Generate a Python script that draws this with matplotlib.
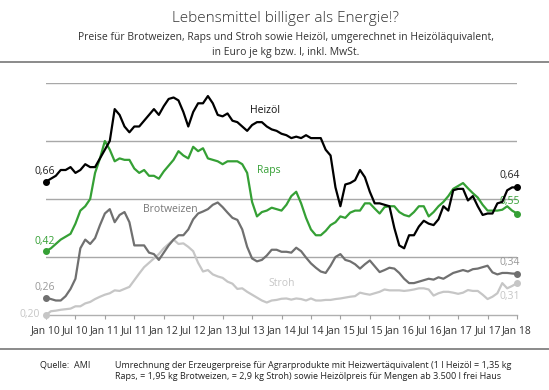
import matplotlib.pyplot as plt

plt.rcParams['font.family'] = ['Open Sans', 'DejaVu Sans']

# monatliche Werte Jan 2010 .. Jan 2018, Euro je kg bzw. l
heizoel = [0.66, 0.67, 0.68, 0.70, 0.70, 0.71, 0.69, 0.70, 0.72, 0.71, 0.71, 0.74,
           0.77, 0.80, 0.91, 0.89, 0.85, 0.83, 0.85, 0.85, 0.87, 0.89, 0.91, 0.89,
           0.92, 0.945, 0.95, 0.94, 0.90, 0.85, 0.90, 0.93, 0.93, 0.955, 0.93, 0.89,
           0.885, 0.895, 0.87, 0.865, 0.85, 0.835, 0.855, 0.865, 0.865, 0.85, 0.84, 0.835,
           0.825, 0.82, 0.81, 0.815, 0.81, 0.82, 0.81, 0.81, 0.81, 0.77, 0.75, 0.64,
           0.575, 0.65, 0.655, 0.665, 0.70, 0.675, 0.625, 0.585, 0.585, 0.58, 0.575, 0.50,
           0.44, 0.43, 0.475, 0.475, 0.505, 0.525, 0.515, 0.51, 0.53, 0.575, 0.56, 0.63,
           0.635, 0.635, 0.595, 0.61, 0.575, 0.545, 0.55, 0.55, 0.585, 0.59, 0.63, 0.64,
           0.64]
raps = [0.42, 0.43, 0.445, 0.46, 0.47, 0.48, 0.515, 0.56, 0.575, 0.60, 0.69, 0.74,
        0.80, 0.77, 0.73, 0.74, 0.735, 0.735, 0.705, 0.69, 0.70, 0.68, 0.68, 0.67,
        0.695, 0.715, 0.735, 0.765, 0.75, 0.74, 0.78, 0.765, 0.775, 0.74, 0.735, 0.73,
        0.72, 0.73, 0.73, 0.73, 0.72, 0.69, 0.59, 0.54, 0.555, 0.56, 0.57, 0.565,
        0.56, 0.58, 0.61, 0.625, 0.585, 0.535, 0.495, 0.475, 0.475, 0.49, 0.51, 0.52,
        0.54, 0.535, 0.553, 0.56, 0.56, 0.585, 0.585, 0.567, 0.55, 0.572, 0.575, 0.575,
        0.555, 0.545, 0.54, 0.555, 0.575, 0.575, 0.54, 0.555, 0.575, 0.59, 0.61, 0.635,
        0.645, 0.655, 0.637, 0.62, 0.605, 0.58, 0.56, 0.56, 0.56, 0.563, 0.575, 0.56,
        0.55]
weizen = [0.26, 0.255, 0.25, 0.25, 0.265, 0.29, 0.325, 0.43, 0.46, 0.445, 0.465, 0.51,
          0.55, 0.565, 0.52, 0.545, 0.555, 0.52, 0.44, 0.44, 0.44, 0.415, 0.41, 0.39,
          0.415, 0.44, 0.46, 0.475, 0.475, 0.495, 0.53, 0.55, 0.557, 0.565, 0.58, 0.588,
          0.572, 0.553, 0.535, 0.528, 0.495, 0.435, 0.395, 0.385, 0.39, 0.405, 0.425, 0.425,
          0.418, 0.418, 0.415, 0.432, 0.42, 0.398, 0.378, 0.363, 0.35, 0.345, 0.37, 0.40,
          0.41, 0.39, 0.385, 0.375, 0.36, 0.375, 0.388, 0.368, 0.348, 0.355, 0.363, 0.36,
          0.345, 0.325, 0.31, 0.31, 0.315, 0.32, 0.325, 0.322, 0.33, 0.325, 0.335, 0.345,
          0.35, 0.355, 0.35, 0.358, 0.36, 0.365, 0.37, 0.347, 0.34, 0.345, 0.345, 0.343,
          0.342]
stroh = [0.20, 0.213, 0.215, 0.218, 0.22, 0.222, 0.23, 0.23, 0.24, 0.245, 0.255, 0.263,
         0.27, 0.275, 0.285, 0.283, 0.29, 0.297, 0.32, 0.343, 0.365, 0.38, 0.395, 0.41,
         0.43, 0.445, 0.46, 0.445, 0.447, 0.435, 0.42, 0.38, 0.35, 0.355, 0.34, 0.333,
         0.328, 0.315, 0.308, 0.29, 0.292, 0.28, 0.27, 0.26, 0.25, 0.243, 0.25, 0.252,
         0.256, 0.257, 0.253, 0.257, 0.255, 0.25, 0.257, 0.25, 0.25, 0.252, 0.252, 0.255,
         0.257, 0.26, 0.263, 0.265, 0.277, 0.273, 0.27, 0.275, 0.28, 0.288, 0.285, 0.285,
         0.285, 0.283, 0.285, 0.288, 0.292, 0.292, 0.288, 0.267, 0.275, 0.28, 0.28, 0.277,
         0.273, 0.277, 0.286, 0.283, 0.283, 0.27, 0.255, 0.263, 0.275, 0.31, 0.292, 0.30,
         0.31]
ticklabels = ['Jan 10', 'Jul 10', 'Jan 11', 'Jul 11', 'Jan 12', 'Jul 12', 'Jan 13', 'Jul 13',
              'Jan 14', 'Jul 14', 'Jan 15', 'Jul 15', 'Jan 16', 'Jul 16', 'Jan 17', 'Jul 17',
              'Jan 18']

fig = plt.figure(figsize=(5.49, 3.9), dpi=100)
ax = fig.add_axes([46/549, 75/390, 471/549, 232/390])
monate = list(range(len(heizoel)))

serien = [
    (stroh, '#c6c6c6', '0,20', '0,31', '#c6c6c6'),
    (weizen, '#707070', '0,26', '0,34', '#999999'),
    (raps, '#35a035', '0,42', '0,55', '#35a035'),
    (heizoel, '#000000', '0,66', '0,64', '#222222'),
]

for y in [0.4, 0.6, 0.8, 1.0]:
    ax.plot([0, 96], [y, y], color='#a8a8a8', lw=1.0, zorder=1)
ax.plot([0, 96], [0.2, 0.2], color='#b0b0b0', lw=1.0, zorder=1, clip_on=False)

for werte, farbe, l0, l1, lfarbe in serien:
    ax.plot(monate, werte, color=farbe, lw=1.6, zorder=3, clip_on=False,
            solid_joinstyle='round')
    ax.plot([monate[0], monate[-1]], [werte[0], werte[-1]], 'o', color=farbe,
            ms=4, zorder=4, clip_on=False)
    if l0 == '0,20':
        ax.text(-1.2, werte[0], l0, color=lfarbe, fontsize=7.5, ha='right', va='center')
    else:
        ax.text(-2.3, werte[0] + 0.035, l0, color=lfarbe, fontsize=7.5, ha='left', va='center')
    if l1 == '0,31':
        ax.text(92.5, werte[-1] - 0.045, l1, color=lfarbe, fontsize=7.5, ha='left', va='center')
    else:
        ax.text(92.5, werte[-1] + 0.04, l1, color=lfarbe, fontsize=7.5, ha='left', va='center')

ax.text(41.5, 0.905, 'Heizöl', color='#111111', fontsize=7.5, va='center')
ax.text(43.0, 0.70, 'Raps', color='#35a035', fontsize=7.5, va='center')
ax.text(19.8, 0.563, 'Brotweizen', color='#777777', fontsize=7.5, va='center')
ax.text(45.3, 0.31, 'Stroh', color='#c6c6c6', fontsize=7.5, va='center')

ax.set_xlim(0, 96)
ax.set_ylim(0.2, 1.0)
for s in ax.spines.values():
    s.set_visible(False)
ax.set_yticks([])
ax.set_xticks(list(range(0, 97, 6)))
ax.set_xticklabels(ticklabels, fontsize=7.5, color='#333333')
ax.tick_params(axis='x', length=3, color='#a0a0a0', pad=4)

fig.text(0.52, 0.953, 'Lebensmittel billiger als Energie!?', ha='center', va='center',
         fontsize=11, color='#333333', fontweight='light')
fig.text(0.52, 0.905, 'Preise für Brotweizen, Raps und Stroh sowie Heizöl, umgerechnet in Heizöläquivalent,',
         ha='center', va='center', fontsize=7.5, color='#333333')
fig.text(0.52, 0.866, 'in Euro je kg bzw. l, inkl. MwSt.', ha='center', va='center',
         fontsize=7.5, color='#333333')
fig.add_artist(plt.Line2D([0, 1], [1 - 62/390, 1 - 62/390], color='#777777', lw=1.2))
fig.add_artist(plt.Line2D([0, 1], [1 - 349/390, 1 - 349/390], color='#777777', lw=1.2))

fig.text(40/549, 1 - 365/390, 'Quelle:  AMI', ha='left', va='center', fontsize=6.5, color='#222222')
fig.text(115/549, 1 - 365/390,
         'Umrechnung der Erzeugerpreise für Agrarprodukte mit Heizwertäquivalent (1 l Heizöl = 1,35 kg',
         ha='left', va='center', fontsize=6.5, color='#222222')
fig.text(115/549, 1 - 376.5/390,
         'Raps, = 1,95 kg Brotweizen, = 2,9 kg Stroh) sowie Heizölpreis für Mengen ab 3.500 l frei Haus',
         ha='left', va='center', fontsize=6.5, color='#222222')

fig.savefig('out.png', dpi=100)
